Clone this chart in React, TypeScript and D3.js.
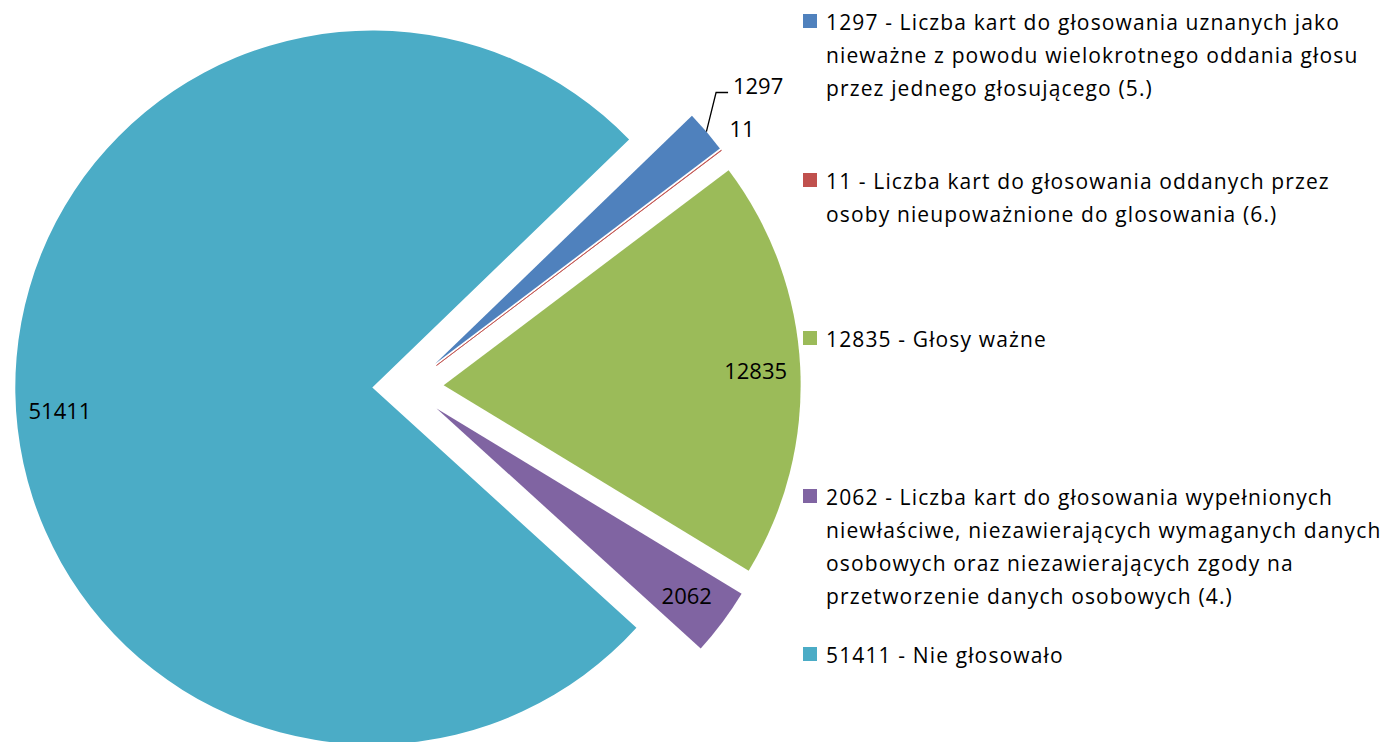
import React, { useEffect, useRef } from 'react';
import * as d3 from 'd3';

const values = [1297, 11, 12835, 2062, 51411];
const colors = ['#4F81BD', '#C0504D', '#9BBB59', '#8064A2', '#4BACC6'];
const legendLines = [
    ['1297 - Liczba kart do głosowania uznanych jako', 'nieważne z powodu wielokrotnego oddania głosu', 'przez jednego głosującego  (5.)'],
    ['11 - Liczba kart do głosowania oddanych przez', 'osoby nieupoważnione do glosowania (6.)'],
    ['12835 - Głosy ważne'],
    ['2062 - Liczba kart do głosowania wypełnionych', 'niewłaściwe, niezawierających wymaganych danych', 'osobowych oraz niezawierających zgody na', 'przetworzenie danych osobowych (4.)'],
    ['51411 - Nie głosowało']
];

const width = 1394, height = 742;
const font = '"Open Sans", sans-serif';

function PieChart() {
    const ref = useRef<SVGGElement>(null);

    useEffect(() => {
        const g = d3.select(ref.current);
        g.selectAll('*').remove();

        const cx = 408, cy = 387, r = 357, explode = r * 0.1;
        const start = 46 * Math.PI / 180;

        const pie = d3.pie<number>().sort(null).startAngle(start).endAngle(start + 2 * Math.PI);
        const arcs = pie(values);
        const arc = d3.arc<d3.PieArcDatum<number>>().innerRadius(0).outerRadius(r);

        const pos = (a: number, d: number) => [Math.sin(a) * d, -Math.cos(a) * d];

        const slices = g.append('g').attr('transform', `translate(${cx},${cy})`);

        const label = (sg, x, y, v) => sg.append('text')
            .attr('x', x).attr('y', y)
            .attr('text-anchor', 'middle').attr('dominant-baseline', 'central')
            .style('font-family', font).style('font-size', '22px')
            .text(v);

        arcs.forEach((a, i) => {
            const mid = (a.startAngle + a.endAngle) / 2;
            const [ox, oy] = pos(mid, explode);
            const sg = slices.append('g').attr('transform', `translate(${ox},${oy})`);
            sg.append('path')
                .attr('d', arc(a))
                .attr('fill', colors[i])
                .attr('stroke', i === 1 ? colors[i] : 'none')
                .attr('stroke-width', 0.8);

            if (i === 0) {
                // outside label with leader line
                const [lx, ly] = pos(mid, r + 68);
                const [sx, sy] = pos(mid, r);
                sg.append('polyline')
                    .attr('points', `${sx},${sy} ${lx - 42},${ly + 5} ${lx - 30},${ly + 5}`)
                    .attr('fill', 'none')
                    .attr('stroke', '#000')
                    .attr('stroke-width', 1.3);
                label(sg, lx, ly - 3, values[i]);
            } else if (i === 1) {
                const [lx, ly] = pos(mid, r + 26);
                label(sg, lx, ly - 7, values[i]);
            } else {
                const [lx, ly] = pos(mid, r * 0.875);
                // excel nudges the big slice label a bit down
                label(sg, lx, i === 4 ? ly + 18 : ly, values[i]);
            }
        });

        // legend
        const legendX = 803, textX = 826, lineH = 33, firstWidth = 514;
        const firstLineY = [22, 181, 339, 497, 655];
        const lg = g.append('g');
        const texts = [];
        legendLines.forEach((lines, i) => {
            lg.append('rect')
                .attr('x', legendX).attr('y', firstLineY[i] - 8)
                .attr('width', 14).attr('height', 14)
                .attr('fill', colors[i]);
            const t = lg.append('text')
                .style('font-family', font).style('font-size', '21px')
                .attr('fill', '#000');
            lines.forEach((ln, j) => {
                t.append('tspan')
                    .attr('x', textX).attr('y', firstLineY[i] + j * lineH)
                    .attr('dominant-baseline', 'central')
                    .text(ln);
            });
            texts.push(t);
        });

        // stretch letter spacing so the first legend line is as wide as in the original
        const first = texts[0].select('tspan').node() as SVGTextContentElement;
        const len = first.getComputedTextLength();
        const ls = (firstWidth - len) / legendLines[0][0].length;
        texts.forEach(t => t.style('letter-spacing', `${ls}px`));
    }, []);

    return (
        <svg width={width} height={height} style={{ position: 'absolute', left: 0, top: 0, background: '#fff' }}>
            <g ref={ref}></g>
        </svg>
    );
}

export default function App() {
    return <PieChart />;
}
